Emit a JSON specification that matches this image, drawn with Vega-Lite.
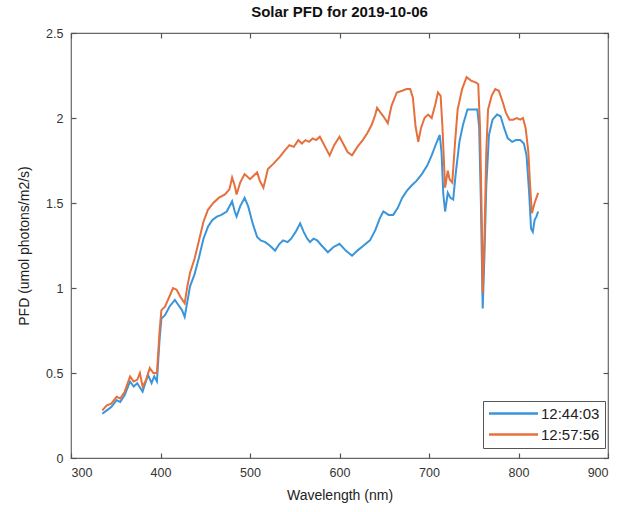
{
  "$schema": "https://vega.github.io/schema/vega-lite/v6.json",
  "width": 537,
  "height": 425,
  "autosize": {"type": "none"},
  "padding": {"left": 71, "top": 33, "right": 25, "bottom": 54},
  "background": "white",
  "title": {"text": "Solar PFD for 2019-10-06", "font": "Liberation Sans", "fontSize": 15, "fontWeight": "bold", "color": "#111", "offset": 7, "anchor": "middle"},
  "config": {
    "view": {"stroke": "#666", "strokeWidth": 1.2},
    "axis": {"labelFont": "Liberation Sans", "titleFont": "Liberation Sans", "labelColor": "#333", "titleColor": "#222", "labelFontSize": 12.5, "titleFontSize": 14, "titleFontWeight": "normal", "grid": false, "domain": false, "tickColor": "#555", "tickSize": -5, "tickWidth": 1.2}
  },
  "data": {"values": [
    {"t":"12:44:03","w":335,"v":0.26},{"t":"12:44:03","w":340,"v":0.28},{"t":"12:44:03","w":345,"v":0.30},{"t":"12:44:03","w":351,"v":0.34},{"t":"12:44:03","w":355,"v":0.33},{"t":"12:44:03","w":360,"v":0.37},{"t":"12:44:03","w":366,"v":0.45},{"t":"12:44:03","w":370,"v":0.42},{"t":"12:44:03","w":374,"v":0.44},{"t":"12:44:03","w":380,"v":0.39},{"t":"12:44:03","w":386,"v":0.49},{"t":"12:44:03","w":390,"v":0.44},{"t":"12:44:03","w":393,"v":0.48},{"t":"12:44:03","w":396,"v":0.45},{"t":"12:44:03","w":399,"v":0.70},{"t":"12:44:03","w":401,"v":0.82},{"t":"12:44:03","w":405,"v":0.84},{"t":"12:44:03","w":410,"v":0.89},{"t":"12:44:03","w":416,"v":0.93},{"t":"12:44:03","w":420,"v":0.90},{"t":"12:44:03","w":424,"v":0.87},{"t":"12:44:03","w":427,"v":0.83},{"t":"12:44:03","w":430,"v":0.92},{"t":"12:44:03","w":433,"v":1.01},{"t":"12:44:03","w":438,"v":1.08},{"t":"12:44:03","w":443,"v":1.18},{"t":"12:44:03","w":448,"v":1.29},{"t":"12:44:03","w":453,"v":1.36},{"t":"12:44:03","w":458,"v":1.40},{"t":"12:44:03","w":463,"v":1.42},{"t":"12:44:03","w":468,"v":1.43},{"t":"12:44:03","w":474,"v":1.45},{"t":"12:44:03","w":480,"v":1.51},{"t":"12:44:03","w":483,"v":1.45},{"t":"12:44:03","w":485,"v":1.42},{"t":"12:44:03","w":489,"v":1.48},{"t":"12:44:03","w":494,"v":1.53},{"t":"12:44:03","w":498,"v":1.48},{"t":"12:44:03","w":503,"v":1.38},{"t":"12:44:03","w":508,"v":1.30},{"t":"12:44:03","w":512,"v":1.28},{"t":"12:44:03","w":517,"v":1.27},{"t":"12:44:03","w":522,"v":1.25},{"t":"12:44:03","w":528,"v":1.22},{"t":"12:44:03","w":533,"v":1.26},{"t":"12:44:03","w":537,"v":1.28},{"t":"12:44:03","w":542,"v":1.27},{"t":"12:44:03","w":546,"v":1.29},{"t":"12:44:03","w":551,"v":1.33},{"t":"12:44:03","w":556,"v":1.38},{"t":"12:44:03","w":560,"v":1.33},{"t":"12:44:03","w":564,"v":1.29},{"t":"12:44:03","w":567,"v":1.27},{"t":"12:44:03","w":571,"v":1.29},{"t":"12:44:03","w":575,"v":1.28},{"t":"12:44:03","w":580,"v":1.25},{"t":"12:44:03","w":587,"v":1.21},{"t":"12:44:03","w":593,"v":1.24},{"t":"12:44:03","w":600,"v":1.26},{"t":"12:44:03","w":607,"v":1.22},{"t":"12:44:03","w":614,"v":1.19},{"t":"12:44:03","w":620,"v":1.22},{"t":"12:44:03","w":627,"v":1.25},{"t":"12:44:03","w":634,"v":1.28},{"t":"12:44:03","w":640,"v":1.34},{"t":"12:44:03","w":645,"v":1.41},{"t":"12:44:03","w":649,"v":1.45},{"t":"12:44:03","w":655,"v":1.43},{"t":"12:44:03","w":660,"v":1.43},{"t":"12:44:03","w":665,"v":1.47},{"t":"12:44:03","w":670,"v":1.53},{"t":"12:44:03","w":675,"v":1.57},{"t":"12:44:03","w":680,"v":1.60},{"t":"12:44:03","w":686,"v":1.63},{"t":"12:44:03","w":692,"v":1.67},{"t":"12:44:03","w":698,"v":1.72},{"t":"12:44:03","w":703,"v":1.78},{"t":"12:44:03","w":708,"v":1.85},{"t":"12:44:03","w":712,"v":1.90},{"t":"12:44:03","w":714,"v":1.80},{"t":"12:44:03","w":716,"v":1.55},{"t":"12:44:03","w":718,"v":1.45},{"t":"12:44:03","w":721,"v":1.56},{"t":"12:44:03","w":724,"v":1.53},{"t":"12:44:03","w":727,"v":1.52},{"t":"12:44:03","w":730,"v":1.68},{"t":"12:44:03","w":734,"v":1.86},{"t":"12:44:03","w":738,"v":1.96},{"t":"12:44:03","w":743,"v":2.05},{"t":"12:44:03","w":748,"v":2.05},{"t":"12:44:03","w":754,"v":2.05},{"t":"12:44:03","w":756,"v":1.95},{"t":"12:44:03","w":758,"v":1.50},{"t":"12:44:03","w":760,"v":0.88},{"t":"12:44:03","w":762,"v":1.20},{"t":"12:44:03","w":764,"v":1.60},{"t":"12:44:03","w":767,"v":1.90},{"t":"12:44:03","w":771,"v":1.99},{"t":"12:44:03","w":776,"v":2.02},{"t":"12:44:03","w":780,"v":2.01},{"t":"12:44:03","w":784,"v":1.94},{"t":"12:44:03","w":788,"v":1.88},{"t":"12:44:03","w":793,"v":1.86},{"t":"12:44:03","w":797,"v":1.87},{"t":"12:44:03","w":802,"v":1.87},{"t":"12:44:03","w":806,"v":1.85},{"t":"12:44:03","w":809,"v":1.78},{"t":"12:44:03","w":812,"v":1.55},{"t":"12:44:03","w":814,"v":1.35},{"t":"12:44:03","w":816,"v":1.33},{"t":"12:44:03","w":818,"v":1.40},{"t":"12:44:03","w":820,"v":1.42},{"t":"12:44:03","w":822,"v":1.45},
    {"t":"12:57:56","w":335,"v":0.28},{"t":"12:57:56","w":340,"v":0.31},{"t":"12:57:56","w":345,"v":0.32},{"t":"12:57:56","w":351,"v":0.36},{"t":"12:57:56","w":355,"v":0.35},{"t":"12:57:56","w":360,"v":0.39},{"t":"12:57:56","w":366,"v":0.48},{"t":"12:57:56","w":370,"v":0.45},{"t":"12:57:56","w":374,"v":0.46},{"t":"12:57:56","w":377,"v":0.50},{"t":"12:57:56","w":380,"v":0.42},{"t":"12:57:56","w":384,"v":0.46},{"t":"12:57:56","w":388,"v":0.53},{"t":"12:57:56","w":392,"v":0.50},{"t":"12:57:56","w":396,"v":0.50},{"t":"12:57:56","w":399,"v":0.75},{"t":"12:57:56","w":401,"v":0.87},{"t":"12:57:56","w":405,"v":0.89},{"t":"12:57:56","w":410,"v":0.95},{"t":"12:57:56","w":414,"v":1.00},{"t":"12:57:56","w":418,"v":0.99},{"t":"12:57:56","w":422,"v":0.95},{"t":"12:57:56","w":427,"v":0.91},{"t":"12:57:56","w":430,"v":1.01},{"t":"12:57:56","w":433,"v":1.09},{"t":"12:57:56","w":438,"v":1.17},{"t":"12:57:56","w":443,"v":1.28},{"t":"12:57:56","w":448,"v":1.39},{"t":"12:57:56","w":453,"v":1.46},{"t":"12:57:56","w":459,"v":1.50},{"t":"12:57:56","w":465,"v":1.53},{"t":"12:57:56","w":472,"v":1.55},{"t":"12:57:56","w":477,"v":1.58},{"t":"12:57:56","w":480,"v":1.65},{"t":"12:57:56","w":483,"v":1.60},{"t":"12:57:56","w":485,"v":1.55},{"t":"12:57:56","w":489,"v":1.62},{"t":"12:57:56","w":494,"v":1.67},{"t":"12:57:56","w":500,"v":1.64},{"t":"12:57:56","w":504,"v":1.66},{"t":"12:57:56","w":508,"v":1.68},{"t":"12:57:56","w":511,"v":1.63},{"t":"12:57:56","w":515,"v":1.59},{"t":"12:57:56","w":520,"v":1.70},{"t":"12:57:56","w":526,"v":1.73},{"t":"12:57:56","w":533,"v":1.77},{"t":"12:57:56","w":539,"v":1.81},{"t":"12:57:56","w":544,"v":1.84},{"t":"12:57:56","w":549,"v":1.83},{"t":"12:57:56","w":554,"v":1.87},{"t":"12:57:56","w":558,"v":1.85},{"t":"12:57:56","w":562,"v":1.87},{"t":"12:57:56","w":566,"v":1.86},{"t":"12:57:56","w":570,"v":1.88},{"t":"12:57:56","w":574,"v":1.87},{"t":"12:57:56","w":578,"v":1.89},{"t":"12:57:56","w":584,"v":1.83},{"t":"12:57:56","w":589,"v":1.78},{"t":"12:57:56","w":594,"v":1.84},{"t":"12:57:56","w":600,"v":1.89},{"t":"12:57:56","w":604,"v":1.85},{"t":"12:57:56","w":609,"v":1.80},{"t":"12:57:56","w":614,"v":1.78},{"t":"12:57:56","w":620,"v":1.83},{"t":"12:57:56","w":626,"v":1.87},{"t":"12:57:56","w":631,"v":1.91},{"t":"12:57:56","w":636,"v":1.96},{"t":"12:57:56","w":640,"v":2.02},{"t":"12:57:56","w":642,"v":2.06},{"t":"12:57:56","w":646,"v":2.03},{"t":"12:57:56","w":649,"v":2.01},{"t":"12:57:56","w":654,"v":1.97},{"t":"12:57:56","w":658,"v":2.07},{"t":"12:57:56","w":664,"v":2.15},{"t":"12:57:56","w":670,"v":2.16},{"t":"12:57:56","w":675,"v":2.17},{"t":"12:57:56","w":679,"v":2.17},{"t":"12:57:56","w":682,"v":2.12},{"t":"12:57:56","w":685,"v":1.95},{"t":"12:57:56","w":688,"v":1.86},{"t":"12:57:56","w":691,"v":1.94},{"t":"12:57:56","w":695,"v":2.00},{"t":"12:57:56","w":699,"v":2.02},{"t":"12:57:56","w":703,"v":2.00},{"t":"12:57:56","w":707,"v":2.08},{"t":"12:57:56","w":710,"v":2.15},{"t":"12:57:56","w":713,"v":2.13},{"t":"12:57:56","w":715,"v":1.95},{"t":"12:57:56","w":718,"v":1.59},{"t":"12:57:56","w":721,"v":1.69},{"t":"12:57:56","w":723,"v":1.64},{"t":"12:57:56","w":726,"v":1.62},{"t":"12:57:56","w":729,"v":1.85},{"t":"12:57:56","w":732,"v":2.05},{"t":"12:57:56","w":737,"v":2.17},{"t":"12:57:56","w":742,"v":2.24},{"t":"12:57:56","w":747,"v":2.22},{"t":"12:57:56","w":752,"v":2.21},{"t":"12:57:56","w":755,"v":2.20},{"t":"12:57:56","w":757,"v":1.95},{"t":"12:57:56","w":759,"v":1.40},{"t":"12:57:56","w":760,"v":0.97},{"t":"12:57:56","w":762,"v":1.30},{"t":"12:57:56","w":764,"v":1.80},{"t":"12:57:56","w":766,"v":2.05},{"t":"12:57:56","w":770,"v":2.13},{"t":"12:57:56","w":774,"v":2.17},{"t":"12:57:56","w":778,"v":2.16},{"t":"12:57:56","w":782,"v":2.10},{"t":"12:57:56","w":786,"v":2.03},{"t":"12:57:56","w":790,"v":1.99},{"t":"12:57:56","w":794,"v":1.99},{"t":"12:57:56","w":798,"v":2.00},{"t":"12:57:56","w":802,"v":1.99},{"t":"12:57:56","w":805,"v":2.00},{"t":"12:57:56","w":808,"v":1.94},{"t":"12:57:56","w":811,"v":1.80},{"t":"12:57:56","w":813,"v":1.60},{"t":"12:57:56","w":815,"v":1.44},{"t":"12:57:56","w":818,"v":1.50},{"t":"12:57:56","w":820,"v":1.53},{"t":"12:57:56","w":822,"v":1.56}
  ]},
  "layer": [
    {
      "mark": {"type": "line", "strokeWidth": 2, "interpolate": "linear"},
      "encoding": {
        "x": {"field": "w", "type": "quantitative", "scale": {"domain": [300, 900], "nice": false, "zero": false}, "axis": {"orient": "bottom", "title": "Wavelength (nm)", "values": [300, 400, 500, 600, 700, 800, 900], "labelPadding": 13, "titlePadding": 10}},
        "y": {"field": "v", "type": "quantitative", "scale": {"domain": [0, 2.5], "nice": false}, "axis": {"orient": "left", "title": "PFD (umol photons/m2/s)", "values": [0, 0.5, 1, 1.5, 2, 2.5], "format": "~g", "labelPadding": 13, "titlePadding": 14}},
        "color": {"field": "t", "type": "nominal", "scale": {"domain": ["12:44:03", "12:57:56"], "range": ["#3A95DA", "#E5703E"]}, "legend": {"title": null, "orient": "none", "legendX": 412, "legendY": 368, "direction": "vertical", "symbolType": "M-4,0H4", "symbolSize": 150, "symbolStrokeWidth": 2.5, "symbolOffset": 18, "labelFont": "Liberation Sans", "labelFontSize": 15, "labelColor": "#222", "strokeColor": "#555", "fillColor": "white", "padding": 5, "rowPadding": 5, "labelOffset": 20}}
      }
    },
    {
      "mark": {"type": "line", "strokeOpacity": 0},
      "encoding": {
        "x": {"field": "w", "type": "quantitative", "scale": {"domain": [300, 900], "nice": false, "zero": false}, "axis": {"orient": "top", "title": null, "labels": false, "values": [300, 400, 500, 600, 700, 800, 900]}},
        "y": {"field": "v", "type": "quantitative", "scale": {"domain": [0, 2.5], "nice": false}, "axis": {"orient": "right", "title": null, "labels": false, "values": [0, 0.5, 1, 1.5, 2, 2.5]}},
        "detail": {"field": "t"}
      }
    }
  ],
  "resolve": {"axis": {"x": "independent", "y": "independent"}}
}
